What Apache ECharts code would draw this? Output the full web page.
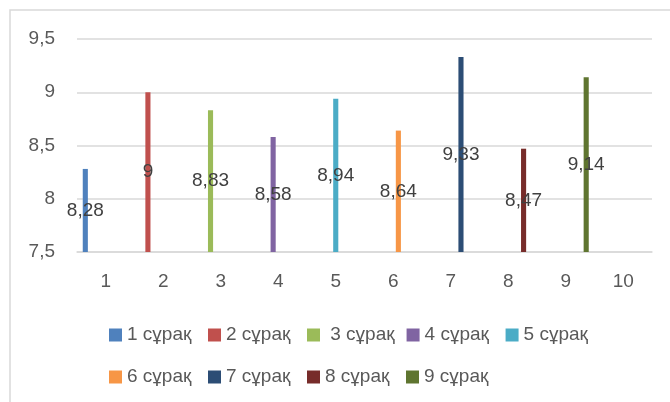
<!DOCTYPE html>
<html>
<head>
<meta charset="utf-8">
<script src="https://cdn.jsdelivr.net/npm/echarts@6/dist/echarts.min.js"></script>
<style>
html,body{margin:0;padding:0;background:#fff;}
#c{width:670px;height:402px;}
</style>
</head>
<body>
<div id="c"></div>
<script>
var categories = ['1','2','3','4','5','6','7','8','9','10'];
var seriesNames = ['1 сұрақ','2 сұрақ',' 3 сұрақ','4 сұрақ','5 сұрақ','6 сұрақ','7 сұрақ','8 сұрақ','9 сұрақ'];
var seriesValues = [8.28, 9, 8.83, 8.58, 8.94, 8.64, 9.33, 8.47, 9.14];
var colors = ['#4F81BD','#C0504D','#9BBB59','#8064A2','#4BACC6','#F79646','#2C4D75','#772C2A','#5F7530'];
var yMin = 7.5, yMax = 9.5, yStep = 0.5;

var font = '"Liberation Sans", Arial, sans-serif';
function comma(v){ return String(v).replace('.', ','); }

var series = seriesNames.map(function(name, i){
  var data = categories.map(function(c, j){ return j === i ? seriesValues[i] : null; });
  return {
    name: name,
    type: 'bar',
    data: data,
    barGap: '0%',
    barCategoryGap: '20%',
    itemStyle: {color: colors[i]},
    label: {
      show: true,
      position: 'inside',
      color: '#404040',
      fontSize: 19,
      fontFamily: font,
      formatter: function(p){ return comma(p.value); }
    }
  };
});

var chart = echarts.init(document.getElementById('c'), null, {renderer: 'canvas'});
chart.setOption({
  animation: false,
  backgroundColor: '#fff',
  graphic: [{
    type: 'rect',
    shape: {x: 10, y: 10, width: 700, height: 500},
    style: {fill: 'none', stroke: '#d9d9d9', lineWidth: 1.5},
    silent: true
  }],
  grid: {left: 77, right: 18, top: 39, bottom: 150, containLabel: false},
  xAxis: {
    type: 'category',
    data: categories,
    axisTick: {show: false},
    axisLine: {show: true, lineStyle: {color: '#d9d9d9', width: 1.5}},
    axisLabel: {color: '#595959', fontSize: 19, fontFamily: font, margin: 20}
  },
  yAxis: {
    type: 'value',
    min: yMin, max: yMax, interval: yStep,
    startValue: yMin,
    axisLine: {show: false},
    axisTick: {show: false},
    splitLine: {lineStyle: {color: '#d9d9d9', width: 1.5}},
    axisLabel: {color: '#595959', fontSize: 19, fontFamily: font, margin: 22,
      formatter: function(v){ return comma(v); }}
  },
  legend: {
    left: 109, top: 320, width: 500, padding: 0,
    itemWidth: 13, itemHeight: 13, itemGap: 12,
    icon: 'rect',
    textStyle: {color: '#595959', fontSize: 19, fontFamily: font, width: 69, lineHeight: 30, padding: [0,0,0,0]},
    data: seriesNames
  },
  series: series
});
</script>
</body>
</html>
